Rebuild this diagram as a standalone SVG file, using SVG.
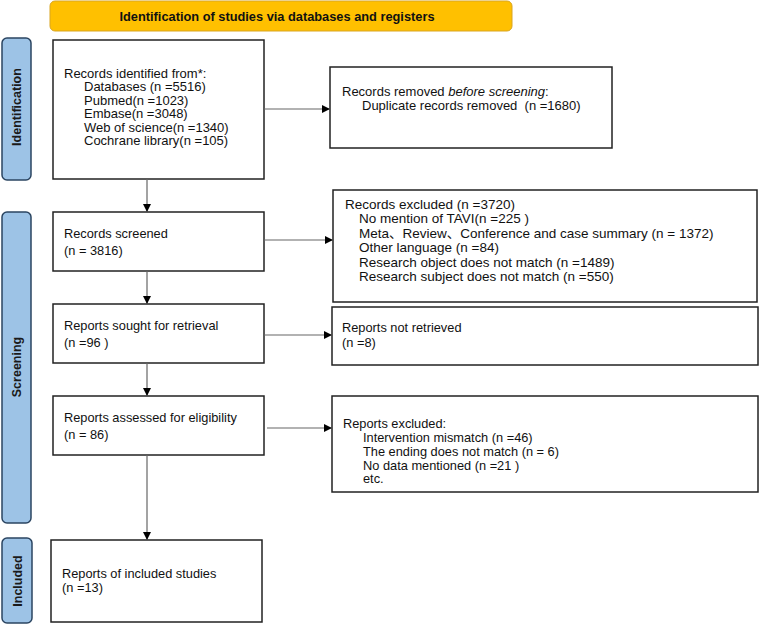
<svg xmlns="http://www.w3.org/2000/svg" width="760" height="626" viewBox="0 0 760 626">
<defs>
<marker id="arr" viewBox="0 0 10 10" refX="10" refY="5" markerWidth="8" markerHeight="8" markerUnits="userSpaceOnUse" orient="auto">
<path d="M0,0 L10,5 L0,10 z" fill="#000"/>
</marker>
<style>
.box{fill:#fff;stroke:#222;stroke-width:1.5}
.side{fill:#9DC3E6;stroke:#2B4561;stroke-width:1.5}
.hdr{fill:#FFC000;stroke:#D9A520;stroke-width:1}
text{font-family:"Liberation Sans",Arial,"Noto Sans CJK SC",sans-serif;font-size:12.8px;fill:#111}
.b{font-weight:bold}
.sl{font-weight:bold;font-size:12.5px;fill:#1a1a1a}
.t13{font-size:13px}
.t135{font-size:13.5px}
.con{stroke:#666;stroke-width:1.2;fill:none;marker-end:url(#arr)}
</style>
</defs>
<rect width="760" height="626" fill="#fff"/>

<g id="header">
<rect class="hdr" x="50" y="1" width="462" height="30" rx="5"/>
<text class="b" x="277" y="21" text-anchor="middle" font-size="11.4">Identification of studies via databases and registers</text>
</g>

<g id="side-identification">
<rect class="side" x="2" y="38" width="29" height="142" rx="5"/>
<text class="sl" transform="translate(21,107) rotate(-90)" text-anchor="middle">Identification</text>
</g>
<g id="side-screening">
<rect class="side" x="2" y="212" width="29" height="311" rx="5"/>
<text class="sl" transform="translate(21,367) rotate(-90)" text-anchor="middle">Screening</text>
</g>
<g id="side-included">
<rect class="side" x="2" y="538" width="30" height="85" rx="5"/>
<text class="sl" transform="translate(21.5,581) rotate(-90)" text-anchor="middle">Included</text>
</g>

<g id="n-identified" class="t13">
<rect class="box" x="53" y="40" width="211" height="139"/>
<text class="t13" x="64" y="77.5">Records identified from*:</text>
<text class="t13" x="84" y="91">Databases (n =5516)</text>
<text class="t13" x="84" y="104.5">Pubmed(n =1023)</text>
<text class="t13" x="84" y="118">Embase(n =3048)</text>
<text class="t13" x="84" y="131.5">Web of science(n =1340)</text>
<text class="t13" x="84" y="145">Cochrane library(n =105)</text>
</g>

<g id="n-removed">
<rect class="box" x="330" y="67" width="282" height="81"/>
<text class="t13" x="342" y="96">Records removed <tspan font-style="italic">before screening</tspan>:</text>
<text class="t13" x="362" y="109.5" xml:space="preserve">Duplicate records removed  (n =1680)</text>
</g>

<g id="n-screened">
<rect class="box" x="53" y="212" width="211" height="59"/>
<text x="64" y="237.5">Records screened</text>
<text x="64" y="255">(n = 3816)</text>
</g>

<g id="n-excluded">
<rect class="box" x="333" y="190" width="424" height="112"/>
<text class="t135" x="345" y="208.5">Records excluded (n =3720)</text>
<text class="t135" x="359" y="223">No mention of TAVI(n =225 )</text>
<text class="t135" x="359" y="237.5">Meta、Review、Conference and case summary (n = 1372)</text>
<text class="t135" x="359" y="252">Other language (n =84)</text>
<text class="t135" x="359" y="266.5">Research object does not match (n =1489)</text>
<text class="t135" x="359" y="281">Research subject does not match (n =550)</text>
</g>

<g id="n-sought">
<rect class="box" x="53" y="304" width="211" height="59"/>
<text x="64" y="330">Reports sought for retrieval</text>
<text x="64" y="347">(n =96 )</text>
</g>

<g id="n-notretrieved">
<rect class="box" x="332" y="307" width="426" height="58"/>
<text x="342" y="332">Reports not retrieved</text>
<text x="342" y="347">(n =8)</text>
</g>

<g id="n-assessed">
<rect class="box" x="53" y="396" width="211" height="59"/>
<text x="64" y="422">Reports assessed for eligibility</text>
<text x="64" y="439">(n = 86)</text>
</g>

<g id="n-reportsexcluded">
<rect class="box" x="332" y="396" width="426" height="96"/>
<text x="343" y="427.5">Reports excluded:</text>
<text x="363" y="441.5">Intervention mismatch (n =46)</text>
<text x="363" y="455.5">The ending does not match (n = 6)</text>
<text x="363" y="469.5">No data mentioned (n =21 )</text>
<text x="363" y="483">etc.</text>
</g>

<g id="n-included">
<rect class="box" x="51" y="540" width="211" height="82"/>
<text x="62" y="578">Reports of included studies</text>
<text x="62" y="592">(n =13)</text>
</g>

<g id="connectors">
<line class="con" x1="264" y1="109" x2="330" y2="109"/>
<line class="con" x1="147" y1="179" x2="147" y2="212"/>
<line class="con" x1="264" y1="240" x2="333" y2="240"/>
<line class="con" x1="147" y1="271" x2="147" y2="304"/>
<line class="con" x1="264" y1="335" x2="332" y2="335"/>
<line class="con" x1="147" y1="363" x2="147" y2="396"/>
<line class="con" x1="267" y1="428" x2="332" y2="428"/>
<line class="con" x1="147" y1="455" x2="147" y2="540"/>
</g>
</svg>
